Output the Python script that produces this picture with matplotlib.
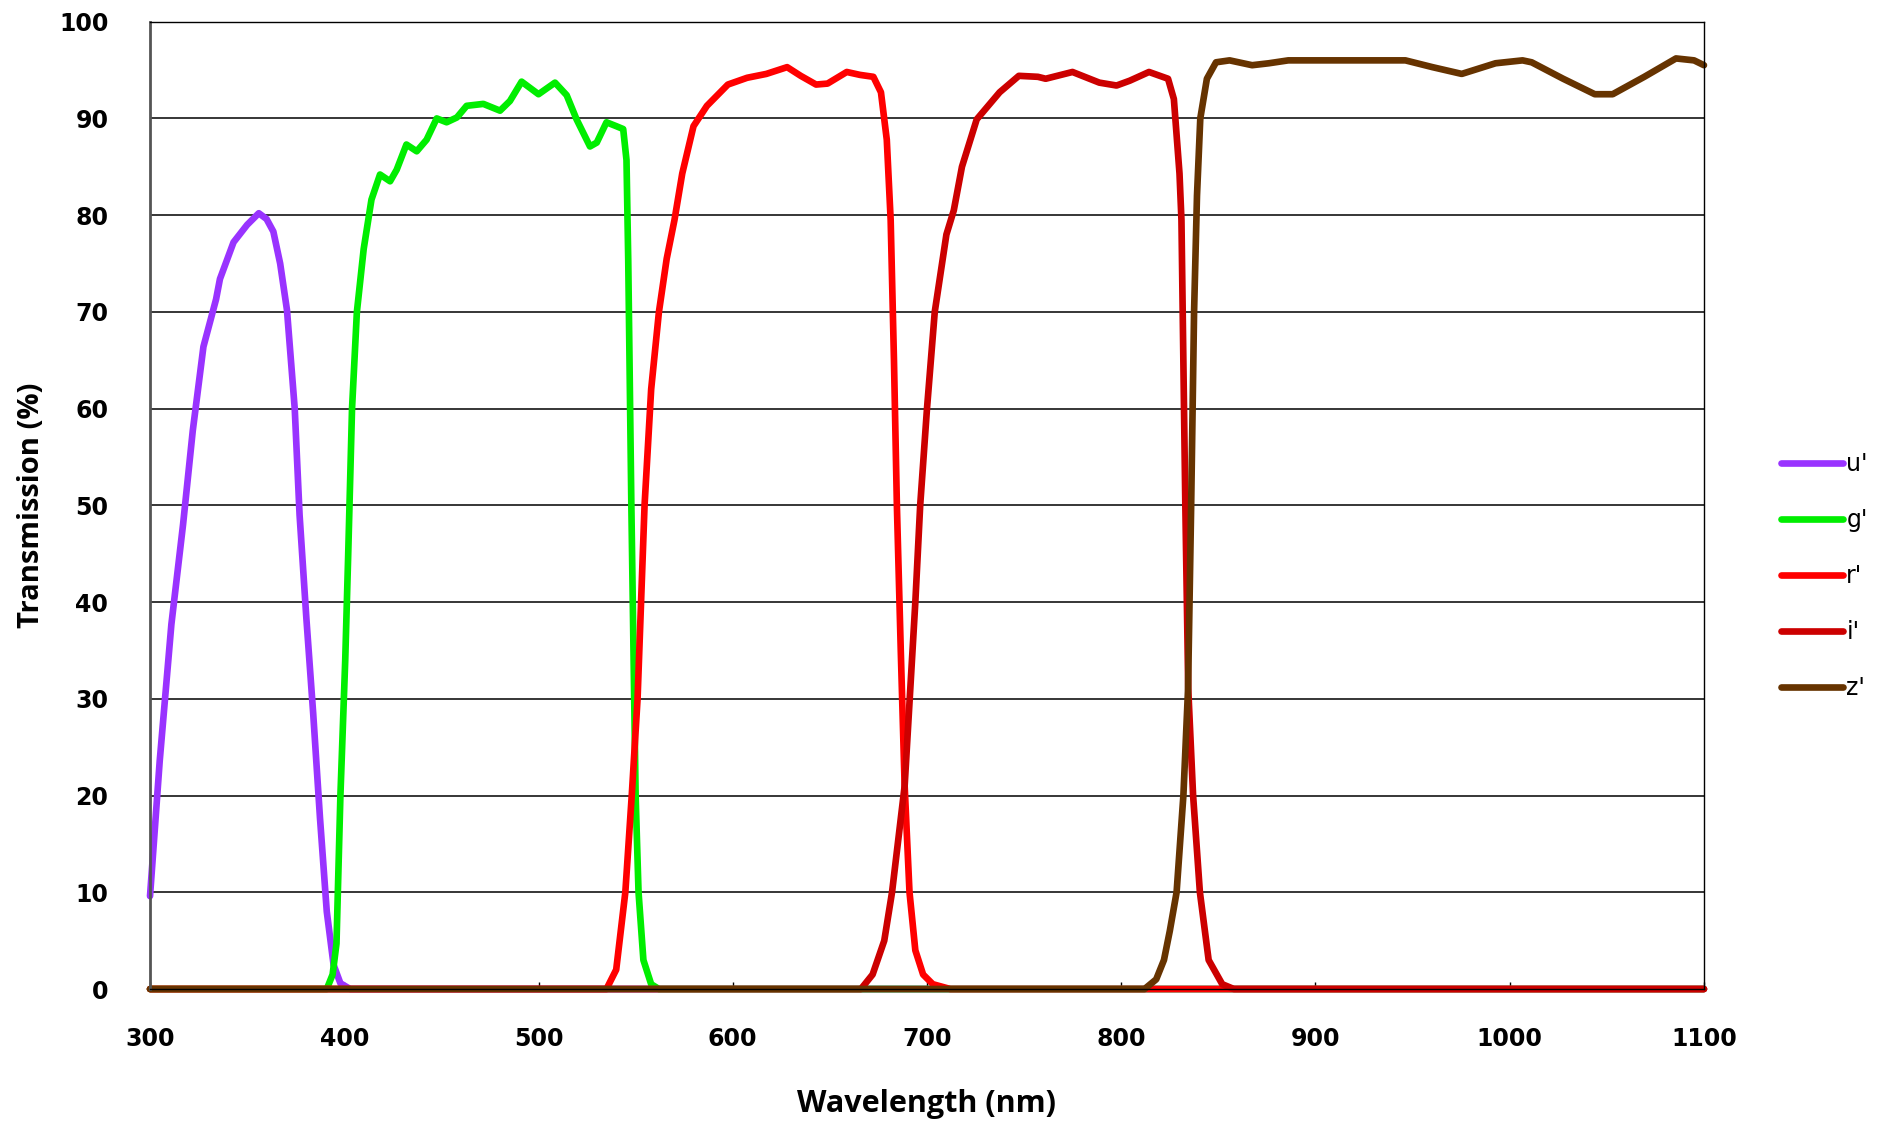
import matplotlib
matplotlib.use('Agg')
import matplotlib.pyplot as plt

# Filter transmission curves (wavelength nm, transmission %)
u_wl = [300, 305, 311, 317, 322, 327.5, 334, 336, 343, 350, 356, 360, 363.5, 367, 370.5, 374.5, 377, 380.5, 384, 387.5, 391, 394.5, 398, 403, 1100]
u_tr = [9.6, 23.6, 37.7, 48, 57.7, 66.4, 71.3, 73.4, 77.2, 79, 80.2, 79.6, 78.3, 75, 70.2, 60, 49, 38.3, 28.5, 17.7, 8, 2.5, 0.6, 0, 0]

g_wl = [300, 391, 394, 396, 398, 400.5, 402, 404, 406.5, 410, 414, 418.4, 423.6, 427, 432, 437.3, 442.4, 447.6, 452.7, 458, 463, 471.6,
        480.2, 485.3, 491.3, 500, 508.5, 514.5, 519.6, 526.5, 530, 535, 540, 543.6, 545.3, 546.2, 547.8, 550, 551.5, 554, 558, 562, 1100]
g_tr = [0, 0, 1.5, 4.7, 19.9, 34, 44.7, 60, 70, 76.5, 81.6, 84.2, 83.5, 84.7, 87.3, 86.6, 87.8, 90, 89.6, 90.1, 91.3, 91.5,
        90.8, 91.8, 93.8, 92.5, 93.7, 92.4, 89.9, 87.1, 87.5, 89.6, 89.2, 88.9, 85.7, 75.3, 50, 20, 10, 3, 0.5, 0, 0]

r_wl = [300, 535, 540, 544.7, 548, 551, 554.6, 558, 562, 566, 570, 574, 579.8, 586.7, 597.5, 607.4, 617.3, 628, 635, 642.9, 648.8,
        658.7, 665.5, 672.4, 676.3, 679.3, 681.3, 683, 684.5, 686.5, 688.5, 691, 694, 698, 703, 712, 1100]
r_tr = [0, 0, 2, 10, 20, 30, 50, 62, 70, 75.5, 79.5, 84.3, 89.2, 91.3, 93.5, 94.2, 94.6, 95.3, 94.4, 93.5, 93.6,
        94.8, 94.5, 94.3, 92.7, 87.8, 79.5, 65, 50, 35, 21, 10, 4, 1.5, 0.5, 0, 0]

i_wl = [300, 666, 672, 678, 682, 688.5, 694, 696.5, 700, 704, 710, 713.8, 718, 725.6, 737.4, 747.3, 757.1, 761.1, 774.9, 788.7,
        797.6, 804.4, 814.3, 824.1, 827.1, 830, 831, 833, 834.5, 837, 840.5, 845, 852, 858, 1100]
i_tr = [0, 0, 1.5, 5, 10, 21, 40, 50, 60, 70, 78, 80.5, 85, 89.9, 92.7, 94.4, 94.3, 94.1, 94.8, 93.7,
        93.4, 93.9, 94.8, 94.1, 92, 84.3, 79.5, 50, 31, 20, 10, 3, 0.5, 0, 0]

z_wl = [300, 812, 818, 822, 825, 828.5, 832, 834.4, 836, 837.5, 839, 840.7, 844.1, 848.8, 855.8, 867.4, 876, 886, 900, 920, 946.3,
        960.2, 975.3, 992.7, 1006.6, 1011.3, 1027.5, 1043.8, 1053, 1069.3, 1085.6, 1094.9, 1100]
z_tr = [0, 0, 1, 3, 6, 10, 20, 31, 50, 70, 82, 90, 94.1, 95.8, 96, 95.5, 95.7, 96, 96, 96, 96,
        95.3, 94.6, 95.7, 96, 95.8, 94.1, 92.5, 92.5, 94.3, 96.2, 96, 95.5]

labels = ["u'", "g'", "r'", "i'", "z'"]
colors = ['#9933ff', '#00ee00', '#ff0000', '#cc0000', '#663300']

fig = plt.figure(figsize=(18.87, 11.23), dpi=100)
ax = fig.add_axes([0.0795, 0.1193, 0.8235, 0.8614])

curves = [(u_wl, u_tr), (g_wl, g_tr), (r_wl, r_tr), (i_wl, i_tr), (z_wl, z_tr)]
for (wl, tr), lab, col in zip(curves, labels, colors):
    ax.plot(wl, tr, color=col, linewidth=4.8, label=lab, solid_joinstyle='round', solid_capstyle='round', clip_on=False)

ax.set_xlim(300, 1100)
ax.set_ylim(0, 100)
ax.set_xticks(range(300, 1101, 100))
ax.set_yticks(range(0, 101, 10))
ax.grid(True, axis='y', color='black', linewidth=1.1)
ax.set_axisbelow(True)

for sp in ['top', 'right', 'bottom']:
    ax.spines[sp].set_color('black')
    ax.spines[sp].set_linewidth(1)
ax.spines['left'].set_color('#555555')
ax.spines['left'].set_linewidth(2)

ax.tick_params(axis='x', direction='in', length=5, width=1, pad=27, labelsize=17)
ax.tick_params(axis='y', length=0, pad=30, labelsize=17)
for t in ax.get_xticklabels() + ax.get_yticklabels():
    t.set_fontfamily('DejaVu Sans')
    t.set_fontweight('bold')

ax.set_xlabel('Wavelength (nm)', fontsize=22, fontweight='bold', family='Open Sans')
ax.set_ylabel('Transmission (%)', fontsize=21, fontweight='bold', family='Open Sans')
ax.xaxis.set_label_coords(0.5, -0.103)
ax.yaxis.set_label_coords(-0.067, 0.5)

fig.legend(loc='center left', bbox_to_anchor=(0.944, 0.487), frameon=False, fontsize=17,
           handlelength=2.6, handletextpad=0.15, labelspacing=1.35, borderpad=0, borderaxespad=0)

fig.savefig('out.png', dpi=100)
